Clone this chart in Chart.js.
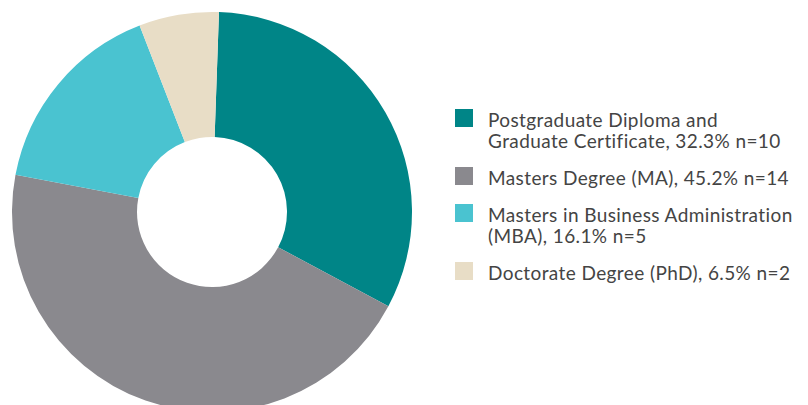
<!DOCTYPE html>
<html>
<head>
<meta charset="utf-8">
<script src="https://cdn.jsdelivr.net/npm/chart.js@4"></script>
<style>
  html, body { margin: 0; padding: 0; background: #fff; overflow: hidden; }
  body { width: 808px; height: 405px; position: relative; font-family: "Lato", "DejaVu Sans", sans-serif; }
  #chart { position: absolute; left: 0; top: 0; }
  #legend { position: absolute; left: 455px; top: 109px; color: #444; font-size: 19px; line-height: 21px; letter-spacing: 0.4px; }
  .item { display: flex; align-items: flex-start; margin-bottom: 16px; }
  .box { width: 18px; height: 18px; flex: none; margin-right: 15px; }
  .txt { margin-top: 0px; }
</style>
</head>
<body>
<canvas id="chart" width="424" height="424"></canvas>
<div id="legend"></div>
<script>
// categorias y valores (n)
let etiquetas = [
  ["Postgraduate Diploma and", "Graduate Certificate, 32.3% n=10"],
  ["Masters Degree (MA), 45.2% n=14"],
  ["Masters in Business Administration", "(MBA), 16.1% n=5"],
  ["Doctorate Degree (PhD), 6.5% n=2"]
];
let valores = [10, 14, 5, 2];
let colores = ["#008587", "#8a898e", "#4ac3d0", "#e8ddc6"];

const canvas = document.getElementById("chart").getContext("2d");

const data = {
  labels: etiquetas.map(l => l.join(" ")),
  datasets: [
    {
      data: valores,
      backgroundColor: colores,
      borderWidth: 0
    }
  ]
};

const config = {
  type: "doughnut",
  data: data,
  options: {
    responsive: false,
    animation: false,
    cutout: "37.5%",
    rotation: 2,
    layout: { padding: 12 },
    plugins: {
      legend: { display: false },
      tooltip: { enabled: false }
    }
  }
};

const chart = new Chart(canvas, config);

// leyenda en html a la derecha
const legend = document.getElementById("legend");
etiquetas.forEach((lineas, i) => {
  const item = document.createElement("div");
  item.className = "item";
  item.innerHTML = `<div class="box" style="background:${colores[i]}"></div><div class="txt">${lineas.join("<br>")}</div>`;
  legend.appendChild(item);
});
</script>
</body>
</html>
